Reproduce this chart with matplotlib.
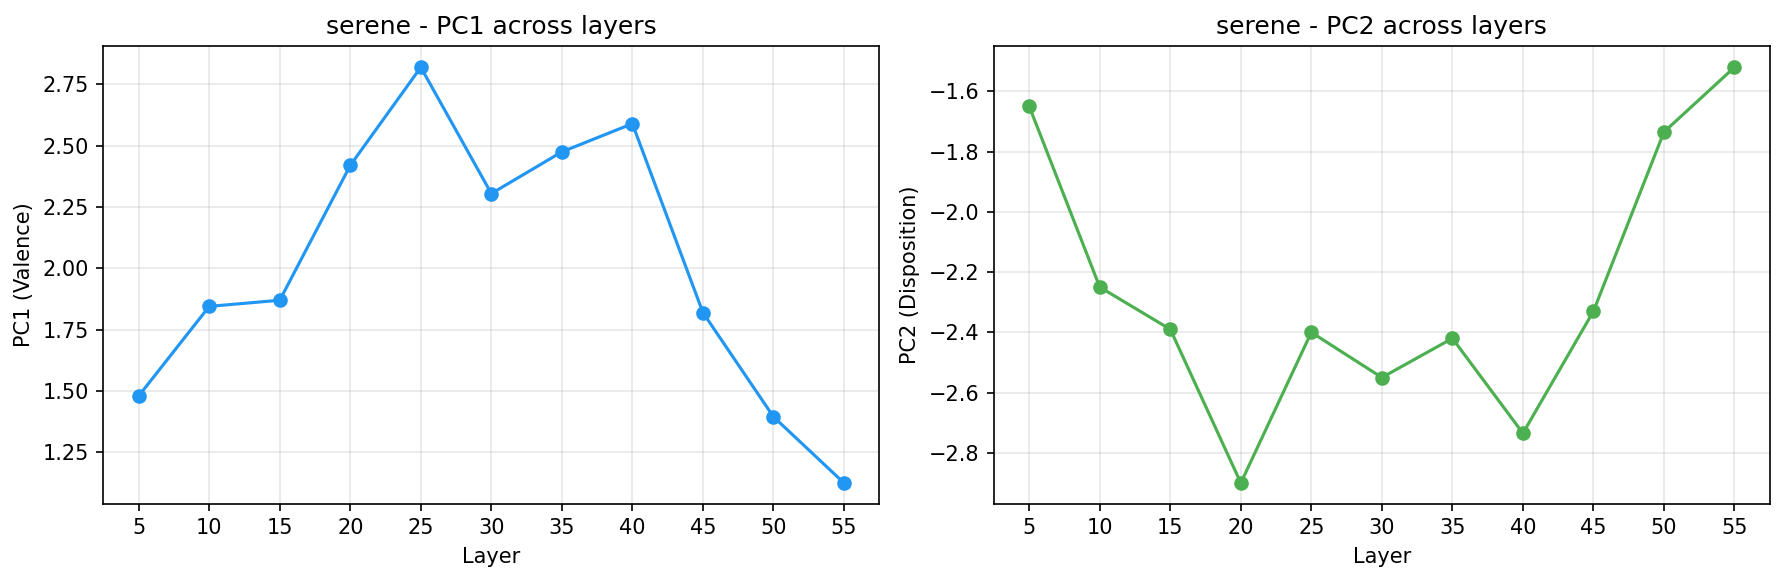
import numpy as np
import matplotlib
matplotlib.use('Agg')
import matplotlib.pyplot as plt

layers = [5, 10, 15, 20, 25, 30, 35, 40, 45, 50, 55]
pc1 = [1.48, 1.845, 1.87, 2.42, 2.82, 2.305, 2.475, 2.59, 1.82, 1.395, 1.125]
pc2 = [-1.65, -2.25, -2.39, -2.90, -2.40, -2.55, -2.42, -2.735, -2.33, -1.735, -1.52]
emotion = 'serene'

fig, axes = plt.subplots(1, 2, figsize=(1784/150., 581/150.))

ax = axes[0]
ax.plot(layers, pc1, 'o-', color='#2196F3')
ax.set_xlabel('Layer')
ax.set_ylabel('PC1 (Valence)')
ax.set_title(emotion + ' - PC1 across layers')
ax.set_xticks(layers)
ax.grid(True, alpha=0.3)

ax = axes[1]
ax.plot(layers, pc2, 'o-', color='#4CAF50')
ax.set_xlabel('Layer')
ax.set_ylabel('PC2 (Disposition)')
ax.set_title(emotion + ' - PC2 across layers')
ax.set_xticks(layers)
ax.grid(True, alpha=0.3)

# positions (bbox tight look)
fig.subplots_adjust(left=0.058, right=0.992, top=0.92, bottom=0.133, wspace=0.148)
fig.savefig('out.png', dpi=150)
plt.close('all')
